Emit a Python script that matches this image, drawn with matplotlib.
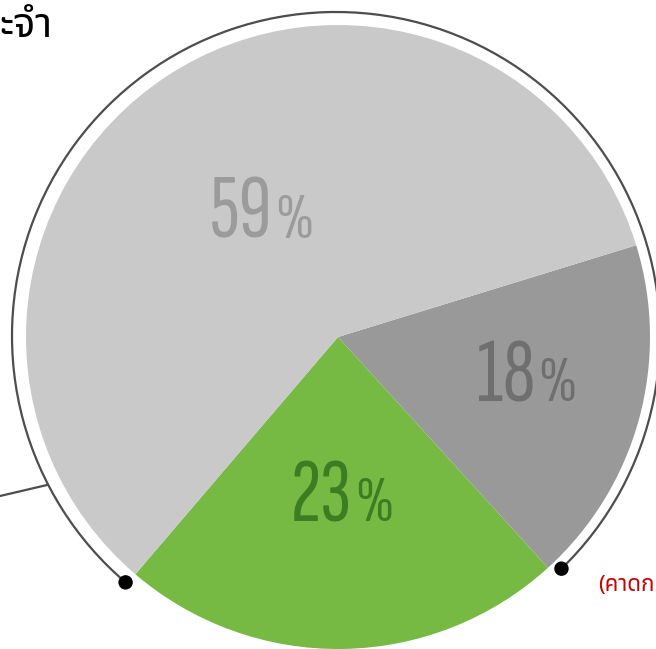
import math
import matplotlib
matplotlib.use("Agg")
import matplotlib.pyplot as plt
from matplotlib.patches import Arc, Circle

# pie data (counter-clockwise from the green slice)
labels = ["23", "18", "59"]
values = [23, 18, 59]
colors = ["#76b943", "#999999", "#c9c9c9"]
label_colors = ["#3b7d23", "#6f6f6f", "#9b9b9b"]

title_text = "ะจำ"
note_text = "(คาดก"

W, H = 656, 649
fig = plt.figure(figsize=(W / 100, H / 100), dpi=100)
ax = fig.add_axes([0, 0, 1, 1])

cx, cy, r = 338, H - 337, 312
wedges, _ = ax.pie(values, colors=colors, startangle=229.5, counterclock=True,
                   center=(cx, cy), radius=r, wedgeprops=dict(linewidth=0))

# outer ring with end dots
ring_r = 324
t1, t2 = 314.1, 589.5
ax.add_patch(Arc((cx - 2, cy + 1), 2 * ring_r, 2 * ring_r, theta1=t1, theta2=t2,
                 color="#4d4d4d", lw=1.6))
for t in (t1, t2):
    a = math.radians(t)
    ax.add_patch(Circle((cx - 2 + ring_r * math.cos(a), cy + 1 + ring_r * math.sin(a)),
                        6.5, color="black", zorder=5))

# leader line on the left
ax.plot([0, 47], [H - 496, H - 485], color="#4d4d4d", lw=1.6)

# percentage labels
num_font = ["Sofia Sans Extra Condensed", "Saira ExtraCondensed", "DejaVu Sans"]
offsets = [(14, -184), (197, -64), (-66, 99)]
for lab, col, (dx, dy) in zip(labels, label_colors, offsets):
    x, y = cx + dx, cy + dy
    ax.text(x, y, lab, color=col, fontsize=66, fontweight="medium", family=num_font,
            ha="right", va="baseline")
    ax.text(x + 3, y, "%", color=col, fontsize=47, fontweight="medium", family=num_font,
            ha="left", va="baseline")

ax.text(-1, H - 37, title_text, fontsize=30, fontweight="bold",
        family=["Noto Sans Thai", "DejaVu Sans"], ha="left", va="baseline")
ax.text(598, H - 591, note_text, fontsize=16, color="#cc0000",
        family=["Noto Sans Thai", "DejaVu Sans"], ha="left", va="baseline")

ax.set_xlim(0, W)
ax.set_ylim(0, H)
ax.set_aspect("equal")
ax.axis("off")

fig.savefig("out.png", dpi=100)
